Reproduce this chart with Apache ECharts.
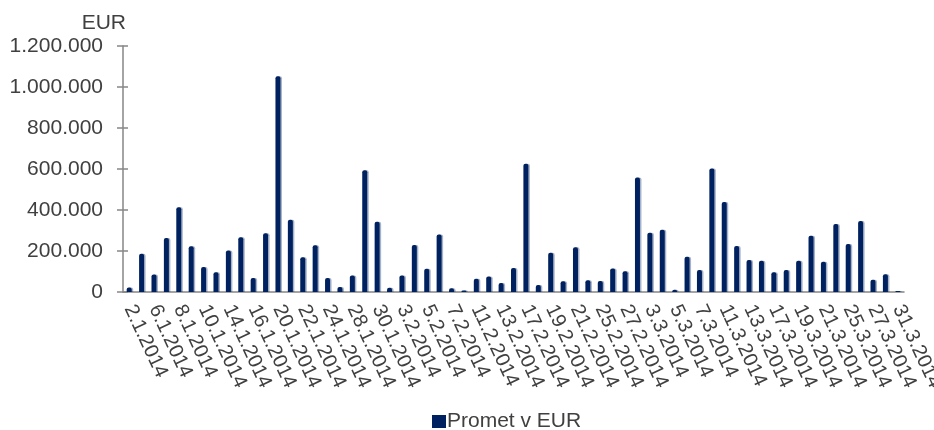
<!DOCTYPE html>
<html>
<head>
<meta charset="utf-8">
<script src="https://cdn.jsdelivr.net/npm/echarts@6/dist/echarts.min.js"></script>
<style>
  html, body { margin: 0; padding: 0; background: #fff; }
  #main { width: 934px; height: 430px; }
</style>
</head>
<body>
<div id="main"></div>
<script>
// trading days, Jan - Mar 2014
var days = [
  '2.1.2014', '3.1.2014', '6.1.2014', '7.1.2014', '8.1.2014', '9.1.2014', '10.1.2014',
  '13.1.2014', '14.1.2014', '15.1.2014', '16.1.2014', '17.1.2014', '20.1.2014', '21.1.2014',
  '22.1.2014', '23.1.2014', '24.1.2014', '27.1.2014', '28.1.2014', '29.1.2014', '30.1.2014',
  '31.1.2014', '3.2.2014', '4.2.2014', '5.2.2014', '6.2.2014', '7.2.2014', '10.2.2014',
  '11.2.2014', '12.2.2014', '13.2.2014', '14.2.2014', '17.2.2014', '18.2.2014', '19.2.2014',
  '20.2.2014', '21.2.2014', '24.2.2014', '25.2.2014', '26.2.2014', '27.2.2014', '28.2.2014',
  '3.3.2014', '4.3.2014', '5.3.2014', '6.3.2014', '7.3.2014', '10.3.2014', '11.3.2014',
  '12.3.2014', '13.3.2014', '14.3.2014', '17.3.2014', '18.3.2014', '19.3.2014', '20.3.2014',
  '21.3.2014', '24.3.2014', '25.3.2014', '26.3.2014', '27.3.2014', '28.3.2014', '31.3.2014'
]
// Promet v EUR
var promet = [
  22000, 187000, 85000, 263000, 413000, 223000, 122000,
  96000, 202000, 267000, 68000, 286000, 1052000, 353000,
  169000, 228000, 68000, 24000, 80000, 594000, 343000,
  21000, 80000, 229000, 114000, 280000, 18000, 7000,
  65000, 76000, 44000, 117000, 626000, 34000, 192000,
  52000, 218000, 57000, 54000, 115000, 101000, 559000,
  289000, 304000, 11000, 172000, 107000, 602000, 439000,
  224000, 156000, 153000, 96000, 107000, 153000, 275000,
  148000, 332000, 234000, 346000, 60000, 86000, 5000
]
var yMax = 1200000
var yStep = 200000

var textColor = '#404040'
var axisColor = '#868686'
var font = 'Liberation Sans, Arial, sans-serif'
var fs = 21

function fmt(v) {
  return String(v).replace(/\B(?=(\d{3})+(?!\d))/g, '.')
}

var chart = echarts.init(document.getElementById('main'))
chart.setOption({
  animation: false,
  textStyle: { fontFamily: font },
  grid: { left: 123, right: 30, top: 46, bottom: 138, containLabel: false, outerBoundsMode: 'none' },
  legend: {
    data: ['Promet v EUR'],
    left: 427,
    top: 406,
    icon: 'rect',
    itemWidth: 14,
    itemHeight: 13,
    itemGap: 0,
    textStyle: { color: textColor, fontSize: fs, fontFamily: font, padding: [0, 0, 0, -4] }
  },
  xAxis: [
    {
      type: 'category',
      data: days,
      boundaryGap: true,
      axisLine: { lineStyle: { color: axisColor, width: 1.5 } },
      axisTick: { interval: 4, length: 6, lineStyle: { color: axisColor, width: 1.5 } },
      axisLabel: {
        interval: 1,
        rotate: -65,
        margin: 14,
        color: textColor,
        fontSize: 20,
        fontFamily: font
      },
      splitLine: { show: false }
    },
    {
      // small ticks between the long ones
      type: 'category',
      data: days,
      position: 'bottom',
      boundaryGap: true,
      axisLine: { show: false },
      axisLabel: { show: false },
      axisTick: {
        alignWithLabel: true,
        interval: function (i) { return i % 5 === 2 },
        length: 4,
        lineStyle: { color: axisColor, width: 1.5 }
      },
      splitLine: { show: false }
    }
  ],
  yAxis: [
    {
      type: 'value',
      min: 0,
      max: yMax,
      interval: yStep,
      name: 'EUR',
      nameLocation: 'end',
      nameGap: 12,
      nameTextStyle: { color: textColor, fontSize: fs, fontFamily: font, align: 'right', padding: [0, -3, 0, 0] },
      axisLine: { show: true, lineStyle: { color: axisColor, width: 1.5 } },
      axisTick: { show: true, length: 6, lineStyle: { color: axisColor, width: 1.5 } },
      axisLabel: { color: textColor, fontSize: fs, fontFamily: font, margin: 20, formatter: fmt },
      splitLine: { show: false }
    },
    {
      // inner half of the crossing ticks
      type: 'value',
      min: 0,
      max: yMax,
      interval: yStep,
      position: 'left',
      axisLine: { show: false },
      axisTick: { show: true, inside: true, length: 5, lineStyle: { color: axisColor, width: 1.5 } },
      axisLabel: { show: false },
      splitLine: { show: false }
    }
  ],
  series: [
    {
      name: 'Promet v EUR',
      type: 'bar',
      xAxisIndex: 0,
      yAxisIndex: 0,
      data: promet,
      barWidth: 5,
      itemStyle: {
        color: '#00215f',
        borderRadius: [2, 2, 0, 0],
        shadowColor: 'rgba(0, 33, 95, 0.35)',
        shadowOffsetX: 1.5
      }
    }
  ]
})
</script>
</body>
</html>
